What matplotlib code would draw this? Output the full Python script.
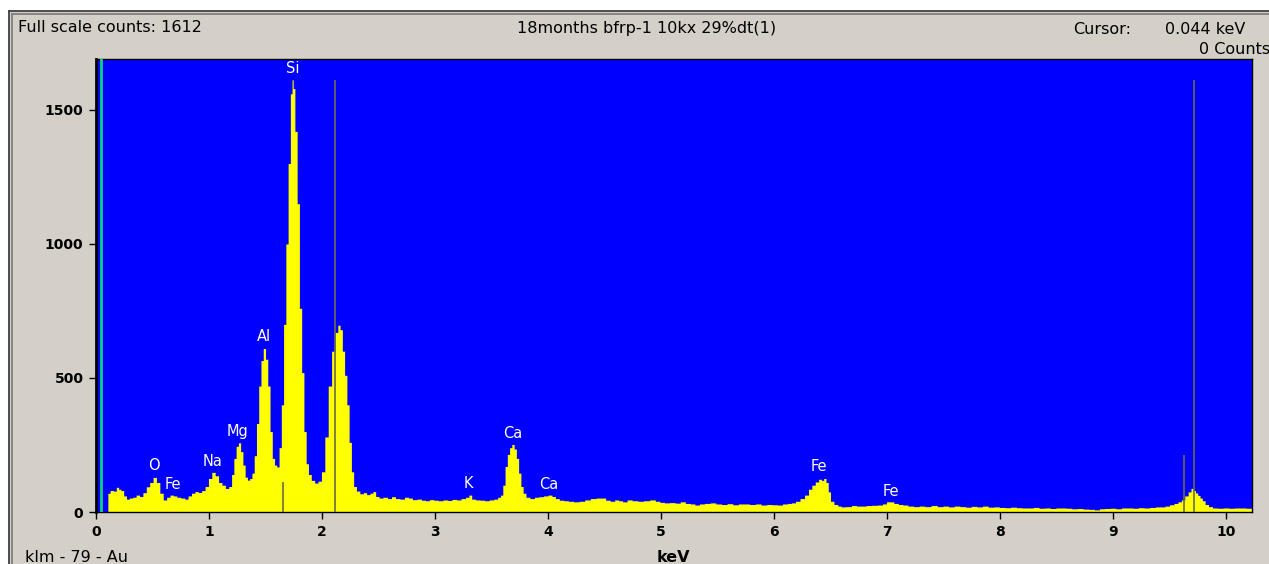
import numpy as np
import matplotlib
matplotlib.use('Agg')
import matplotlib.pyplot as plt
from matplotlib.patches import Rectangle
from matplotlib.lines import Line2D

#%% spectrum (keV, counts)
energy = [0.10, 0.11, 0.14, 0.17, 0.19, 0.21, 0.23, 0.26, 0.28, 0.31, 0.34, 0.37, 0.40, 0.43, 0.46, 0.49,
          0.52, 0.55, 0.58, 0.61, 0.64, 0.67, 0.70, 0.73, 0.77, 0.80, 0.83, 0.86, 0.89, 0.92, 0.95, 0.98,
          1.01, 1.04, 1.07, 1.10, 1.13, 1.16, 1.19, 1.21, 1.23, 1.25, 1.27, 1.29, 1.31, 1.33, 1.35, 1.37,
          1.39, 1.41, 1.43, 1.45, 1.47, 1.49, 1.51, 1.53, 1.55, 1.57, 1.59, 1.61, 1.63, 1.65, 1.67, 1.69,
          1.71, 1.73, 1.74, 1.75, 1.77, 1.79, 1.81, 1.83, 1.85, 1.87, 1.89, 1.92, 1.95, 1.98, 2.01, 2.04,
          2.07, 2.10, 2.13, 2.15, 2.17, 2.19, 2.21, 2.23, 2.25, 2.27, 2.29, 2.32, 2.35, 2.38, 2.41, 2.44,
          2.46, 2.49, 2.52, 2.56, 2.60, 2.63, 2.67, 2.71, 2.75, 2.78, 2.82, 2.86, 2.90, 2.93, 2.97, 3.01,
          3.05, 3.09, 3.13, 3.17, 3.21, 3.25, 3.29, 3.31, 3.34, 3.38, 3.42, 3.46, 3.50, 3.54, 3.57, 3.59,
          3.61, 3.63, 3.65, 3.67, 3.69, 3.71, 3.73, 3.75, 3.77, 3.79, 3.82, 3.86, 3.90, 3.94, 3.98, 4.02,
          4.05, 4.08, 4.12, 4.16, 4.20, 4.25, 4.30, 4.35, 4.40, 4.45, 4.49, 4.53, 4.57, 4.61, 4.64, 4.68,
          4.72, 4.77, 4.82, 4.87, 4.93, 4.97, 5.01, 5.05, 5.10, 5.15, 5.19, 5.24, 5.28, 5.32, 5.36, 5.41,
          5.46, 5.51, 5.56, 5.61, 5.66, 5.71, 5.76, 5.81, 5.86, 5.91, 5.96, 6.01, 6.05, 6.10, 6.14, 6.17,
          6.21, 6.25, 6.29, 6.32, 6.35, 6.38, 6.41, 6.43, 6.45, 6.47, 6.49, 6.51, 6.55, 6.58, 6.61, 6.66,
          6.71, 6.75, 6.79, 6.84, 6.89, 6.94, 6.98, 7.01, 7.04, 7.08, 7.12, 7.16, 7.21, 7.26, 7.31, 7.36,
          7.42, 7.47, 7.52, 7.57, 7.62, 7.67, 7.72, 7.77, 7.82, 7.87, 7.92, 7.97, 8.02, 8.07, 8.12, 8.17,
          8.22, 8.27, 8.32, 8.37, 8.42, 8.47, 8.52, 8.56, 8.61, 8.66, 8.71, 8.76, 8.81, 8.86, 8.90, 8.95,
          9.00, 9.05, 9.10, 9.15, 9.20, 9.25, 9.30, 9.35, 9.40, 9.44, 9.48, 9.52, 9.56, 9.59, 9.62, 9.65,
          9.68, 9.70, 9.72, 9.74, 9.76, 9.78, 9.80, 9.83, 9.86, 9.90, 9.95, 10.00, 10.05, 10.10, 10.15, 10.20,
          10.25]
counts = [0, 70, 80, 78, 92, 85, 80, 60, 48, 52, 55, 63, 58, 72, 94, 110,
          129, 110, 70, 45, 55, 63, 60, 55, 52, 48, 60, 70, 76, 73, 80, 95,
          125, 148, 135, 110, 100, 88, 95, 140, 200, 245, 258, 225, 175, 130, 119, 125,
          145, 210, 330, 470, 565, 610, 570, 470, 300, 200, 175, 168, 240, 400, 700, 1000,
          1300, 1560, 1612, 1580, 1420, 1150, 760, 520, 300, 180, 140, 118, 108, 115, 150, 280,
          470, 600, 670, 697, 680, 600, 510, 400, 260, 150, 95, 78, 68, 72, 65, 70,
          76, 58, 52, 55, 50, 57, 50, 48, 55, 52, 46, 48, 44, 42, 46, 44,
          42, 45, 43, 47, 45, 50, 55, 63, 48, 45, 44, 42, 45, 48, 55, 63,
          100, 170, 215, 240, 252, 235, 200, 145, 95, 70, 55, 50, 55, 57, 60, 63,
          58, 50, 44, 42, 40, 38, 40, 45, 50, 52, 52, 44, 40, 45, 42, 38,
          45, 42, 40, 42, 45, 40, 36, 34, 35, 33, 38, 32, 30, 26, 30, 32,
          34, 30, 28, 31, 27, 30, 30, 28, 30, 26, 28, 27, 26, 30, 32, 34,
          40, 50, 63, 85, 100, 112, 122, 118, 125, 110, 75, 40, 28, 22, 19, 20,
          24, 22, 22, 24, 25, 26, 30, 38, 38, 32, 28, 26, 22, 20, 22, 20,
          24, 20, 22, 19, 22, 20, 18, 21, 19, 22, 18, 19, 17, 16, 18, 16,
          15, 15, 17, 14, 15, 13, 15, 15, 14, 12, 13, 11, 10, 8, 12, 13,
          14, 12, 15, 15, 14, 16, 15, 17, 19, 19, 22, 27, 32, 38, 45, 60,
          75, 88, 80, 71, 62, 52, 42, 28, 20, 15, 14, 15, 14, 15, 15, 14,
          14]

# element labels (text, keV, counts)
peak_names = ['Si', 'Al', 'Mg', 'Na', 'O', 'Fe', 'K', 'Ca', 'Ca', 'Fe', 'Fe']
peak_kev = [1.74, 1.487, 1.248, 1.035, 0.513, 0.681, 3.292, 3.69, 4.009, 6.398, 7.035]
peak_cnt = [1653, 653, 299, 187, 172, 104, 108, 291, 104, 168, 78]

# marker lines
marker_kev = [1.652, 2.115, 9.63, 9.72]
marker_cnt = [113, 1612, 213, 1612]
cursor_kev = 0.044

W, H = 1269, 564
def fx(px):
    return px / W
def fy(py):
    return 1 - py / H

fig = plt.figure(figsize=(W / 100, H / 100), dpi=100)
fig.patch.set_facecolor('#D4D0C8')

# window frame: white strips top/left, double dark line
fig.patches.append(Rectangle((0, fy(11)), 1, 1, transform=fig.transFigure,
                             facecolor='white', edgecolor='none', zorder=-10))
fig.patches.append(Rectangle((0, 0), fx(9), 1, transform=fig.transFigure,
                             facecolor='white', edgecolor='none', zorder=-10))
for px, col in [(9, '#404040'), (12, '#808080')]:
    fig.add_artist(Line2D([fx(px), fx(px)], [0, fy(px + 2)], transform=fig.transFigure, color=col, lw=1.3))
    fig.add_artist(Line2D([fx(px), 1], [fy(px + 2), fy(px + 2)], transform=fig.transFigure, color=col, lw=1.3))

ax = fig.add_axes([fx(96), fy(512), fx(1252) - fx(96), fy(59) - fy(512)])
ax.set_facecolor('#0000FF')
ax.fill_between(energy, counts, step='mid', color='#FFFF00', lw=0, zorder=2)
ax.vlines(marker_kev, 0, marker_cnt, color='#6b6b4a', lw=1.2, zorder=3)
ax.axvline(cursor_kev, color='#10D080', lw=2, zorder=4)

for name, xv, yv in zip(peak_names, peak_kev, peak_cnt):
    ax.text(xv, yv, name, color='white', fontsize=10.5, ha='center', va='center', zorder=5)

ax.set_xlim(0, 10.23)
ax.set_ylim(0, 1690)
ax.set_xticks(range(0, 11))
ax.set_yticks([0, 500, 1000, 1500])
ax.tick_params(direction='out', length=5, width=1, pad=4, labelsize=10, colors='black')
for lab in ax.get_xticklabels() + ax.get_yticklabels():
    lab.set_fontweight('bold')
for s in ax.spines.values():
    s.set_color('black')
    s.set_linewidth(1)
ax.spines['left'].set_linewidth(2)

fs = 11.5
fig.text(fx(18), fy(28), 'Full scale counts: 1612', fontsize=fs, ha='left', va='center')
fig.text(fx(647), fy(28), '18months bfrp-1 10kx 29%dt(1)', fontsize=fs, ha='center', va='center')
fig.text(fx(1073), fy(30), 'Cursor:', fontsize=fs, ha='left', va='center')
fig.text(fx(1165), fy(30), '0.044 keV', fontsize=fs, ha='left', va='center')
fig.text(fx(1199), fy(49), '0 Counts', fontsize=fs, ha='left', va='center')
fig.text(fx(25), fy(557), 'klm - 79 - Au', fontsize=fs, ha='left', va='center')
fig.text(fx(673), fy(557), 'keV', fontsize=fs, fontweight='bold', ha='center', va='center')

fig.savefig('out.png', dpi=100)
